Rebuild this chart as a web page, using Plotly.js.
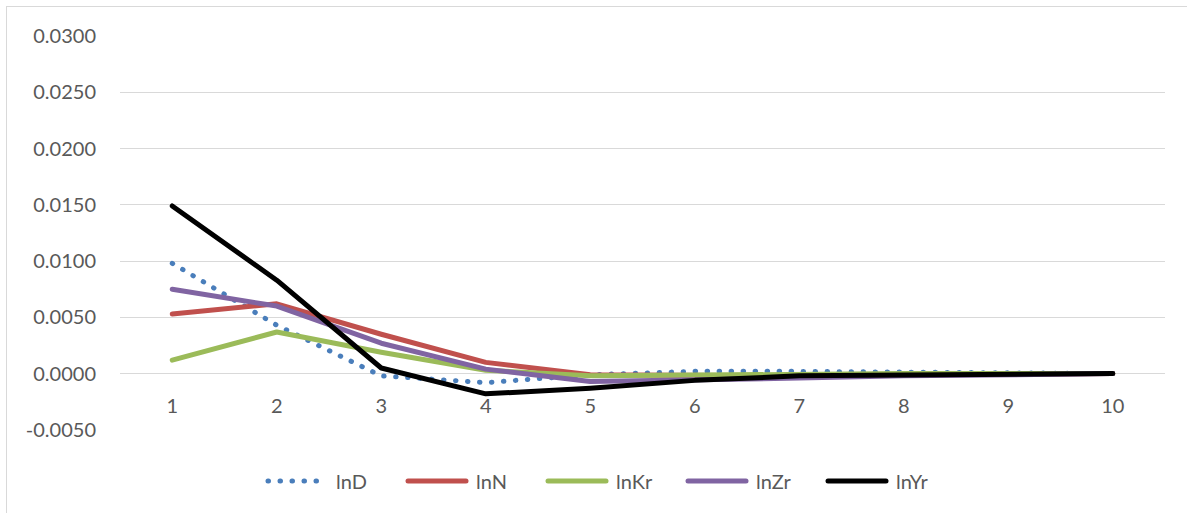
<!DOCTYPE html>
<html>
<head>
<meta charset="utf-8">
<script src="https://cdn.plot.ly/plotly-3.0.1.min.js"></script>
<style>
  html, body { margin: 0; padding: 0; background: #fff; }
  #frame { position: absolute; left: 6px; top: 6px; width: 1200px; height: 520px;
           border-top: 1.5px solid #d9d9d9; border-left: 1.5px solid #d9d9d9; pointer-events: none; }
  #chart { position: absolute; left: 0; top: 0; width: 1187px; height: 513px; }
  .js-line { stroke-linecap: round; stroke-linejoin: round; }
</style>
</head>
<body>
<div id="chart"></div>
<div id="frame"></div>
<script>
const periods = ["1","2","3","4","5","6","7","8","9","10"];
const lnD  = [0.0098, 0.0043, -0.0002, -0.0008, -0.0001, 0.0002, 0.0002, 0.0001, 0.0000, 0.0000];
const lnN  = [0.0053, 0.0062, 0.0035, 0.0010, -0.0001, -0.0002, -0.0002, -0.0001, 0.0000, 0.0000];
const lnKr = [0.0012, 0.0037, 0.0019, 0.0003, -0.0002, -0.0001, 0.0000, 0.0000, 0.0000, 0.0000];
const lnZr = [0.0075, 0.0060, 0.0027, 0.0004, -0.0007, -0.0006, -0.0004, -0.0002, -0.0001, 0.0000];
const lnYr = [0.0149, 0.0083, 0.0005, -0.0018, -0.0013, -0.0006, -0.0002, -0.0001, 0.0000, 0.0000];
const yTicks = [-0.005, 0, 0.005, 0.010, 0.015, 0.020, 0.025, 0.030];
const yTickLabels = ["-0.0050", "0.0000", "0.0050", "0.0100", "0.0150", "0.0200", "0.0250", "0.0300"];

const series = [
  {name: "lnD",  y: lnD,  color: "#4a7ebb", dash: "0.5px,11.5px", width: 5},
  {name: "lnN",  y: lnN,  color: "#c0504d", dash: "solid", width: 5},
  {name: "lnKr", y: lnKr, color: "#9bbb59", dash: "solid", width: 5},
  {name: "lnZr", y: lnZr, color: "#8064a2", dash: "solid", width: 5},
  {name: "lnYr", y: lnYr, color: "#000000", dash: "solid", width: 5}
];

const traces = series.map(s => ({
  type: "scatter", mode: "lines", name: s.name, x: periods, y: s.y,
  line: {color: s.color, width: s.width, dash: s.dash}
}));

const font = {family: "Lato, 'Open Sans', sans-serif", size: 20, color: "#595959"};
const yMin = -0.00501, yMax = 0.0300;

const layout = {
  width: 1187, height: 513,
  margin: {l: 120, r: 22, t: 36, b: 83, autoexpand: false},
  paper_bgcolor: "rgba(0,0,0,0)", plot_bgcolor: "#fff",
  font: font,
  showlegend: true,
  legend: {orientation: "h", xref: "container", x: 263/1187, xanchor: "left",
           yref: "container", y: 1 - 481/513, yanchor: "middle",
           font: font, itemwidth: 63, entrywidth: 62, traceorder: "normal"},
  xaxis: {type: "category", range: [-0.5, 9.5], anchor: "free", position: -yMin / (yMax - yMin),
          showgrid: false, zeroline: false, showline: false,
          ticks: "outside", ticklen: 14, tickcolor: "rgba(0,0,0,0)", tickfont: font, fixedrange: true},
  yaxis: {range: [yMin, yMax], tickmode: "array", tickvals: yTicks, ticktext: yTickLabels,
          showgrid: true, gridcolor: "#d9d9d9", gridwidth: 1, zeroline: false, showline: false,
          ticks: "outside", ticklen: 19, tickcolor: "rgba(0,0,0,0)", tickfont: font, fixedrange: true}
};

Plotly.newPlot("chart", traces, layout, {displayModeBar: false, staticPlot: true}).then(gd => {
  document.querySelectorAll(".legend .js-line").forEach(p => p.setAttribute("d", "M5,0h58"));
});
</script>
</body>
</html>
